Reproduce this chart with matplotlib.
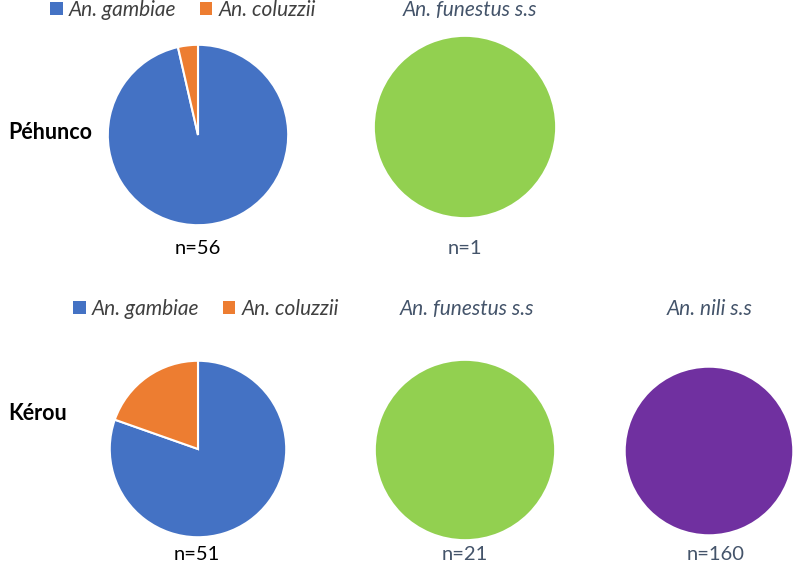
import matplotlib.pyplot as plt
from matplotlib.patches import Patch

W, H = 797, 565

species = ["An. gambiae", "An. coluzzii"]
pehunco_counts = [54, 2]
kerou_counts = [41, 10]
pehunco_funestus = [1]
kerou_funestus = [21]
kerou_nili = [160]

BLUE = "#4472C4"
ORANGE = "#ED7D31"
GREEN = "#92D050"
PURPLE = "#7030A0"
SLATE = "#44546A"

plt.rcParams["font.family"] = ["Lato", "DejaVu Sans"]

fig = plt.figure(figsize=(W / 100, H / 100), dpi=100)


def px(x, y):
    return x / W, 1 - y / H


def pie_at(cx, cy, r, values, colors):
    ax = fig.add_axes([(cx - r) / W, 1 - (cy + r) / H, 2 * r / W, 2 * r / H])
    ax.pie(values, colors=colors, startangle=90, counterclock=False,
           radius=1, wedgeprops=dict(edgecolor="white", linewidth=1.5))
    ax.set_xlim(-1.02, 1.02)
    ax.set_ylim(-1.02, 1.02)
    ax.axis("off")
    return ax


# row 1 - Péhunco
pie_at(198, 135, 92, pehunco_counts, [BLUE, ORANGE])
pie_at(465, 127, 93, pehunco_funestus, [GREEN])

# row 2 - Kérou
pie_at(198, 449, 90, kerou_counts, [BLUE, ORANGE])
pie_at(465, 450, 92, kerou_funestus, [GREEN])
pie_at(709, 451, 86, kerou_nili, [PURPLE])

FS = 15
handles = [Patch(facecolor=BLUE), Patch(facecolor=ORANGE)]
for (lx, ly) in [(183, 10), (206, 309)]:
    fig.legend(handles, species, loc="center", bbox_to_anchor=px(lx, ly),
               ncol=2, frameon=False, handlelength=0.6,
               handleheight=0.6, handletextpad=0.3, columnspacing=1.1,
               prop=dict(style="italic", size=FS), labelcolor="#404040")

fig.text(*px(470, 10), "An. funestus s.s", ha="center", va="center",
         fontsize=FS, style="italic", color=SLATE)
fig.text(*px(467, 309), "An. funestus s.s", ha="center", va="center",
         fontsize=FS, style="italic", color=SLATE)
fig.text(*px(710, 309), "An. nili s.s", ha="center", va="center",
         fontsize=FS, style="italic", color=SLATE)

fig.text(*px(8, 132), "Péhunco", ha="left", va="center",
         fontsize=15.5, fontweight="bold", color="black")
fig.text(*px(8, 413), "Kérou", ha="left", va="center",
         fontsize=15.5, fontweight="bold", color="black")

NS = 14.5
fig.text(*px(198, 248), f"n={sum(pehunco_counts)}", ha="center", va="center",
         fontsize=NS, color="black")
fig.text(*px(465, 248), f"n={pehunco_funestus[0]}", ha="center", va="center",
         fontsize=NS, color=SLATE)
fig.text(*px(197, 554), f"n={sum(kerou_counts)}", ha="center", va="center",
         fontsize=NS, color="black")
fig.text(*px(465, 554), f"n={kerou_funestus[0]}", ha="center", va="center",
         fontsize=NS, color=SLATE)
fig.text(*px(716, 554), f"n={kerou_nili[0]}", ha="center", va="center",
         fontsize=NS, color=SLATE)

fig.savefig("out.png", dpi=100)
